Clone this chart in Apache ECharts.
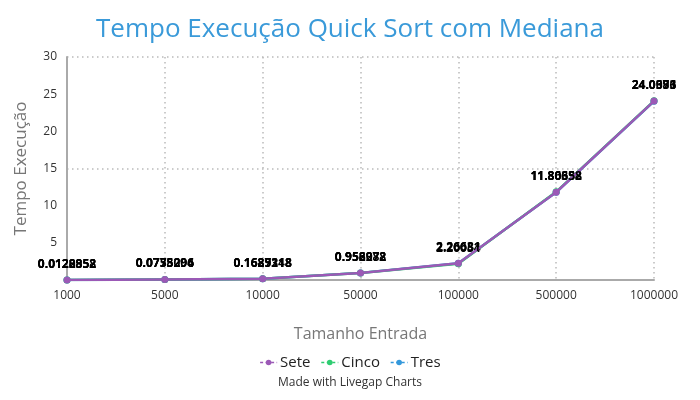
<!DOCTYPE html>
<html><head><meta charset="utf-8">
<script src="https://cdn.jsdelivr.net/npm/echarts@6/dist/echarts.min.js"></script>
<style>html,body{margin:0;padding:0;background:#fff}#c{width:700px;height:400px}</style>
</head><body><div id="c"></div>
<script>
const categories = ['1000','5000','10000','50000','100000','500000','1000000'];
const sete  = [0.0120952, 0.0758006, 0.1689348, 0.956078, 2.26681, 11.80658, 24.0681];
const cinco = [0.0128858, 0.0735296, 0.1627218, 0.952972, 2.20054, 11.86338, 24.0996];
const tres  = [0.0122852, 0.0775294, 0.1685118, 0.958282, 2.26631, 11.80692, 24.0373];
const seriesNames = ['Sete','Cinco','Tres'];
const colors = ['#9b59b6','#2ecc71','#3498db'];
const yTicks = [0, 30, 5];

const font = '"Open Sans", sans-serif';
const chart = echarts.init(document.getElementById('c'));
function mk(name, data, color, z){
  return {
    name, type:'line', data, z,
    yAxisIndex:0,
    symbol:'circle', symbolSize:7,
    lineStyle:{color, width:2.5},
    itemStyle:{color},
    label:{show:true, position:'top', distance:6, color:'#000', fontWeight:'bold', fontSize:12, fontFamily:font,
      formatter:p=>String(p.value)}
  };
}
const grid = {color:'#bbb', type:[1.5,3.5], width:1.5};
chart.setOption({
  animation:false,
  color:colors,
  title:[
    {text:'Tempo Execução Quick Sort com Mediana', left:'center', top:12,
     textStyle:{color:'#3a9ad9', fontSize:26, fontWeight:'normal', fontFamily:font}},
    {text:'Made with Livegap Charts', left:'center', top:372,
     textStyle:{color:'#333', fontSize:12, fontWeight:'normal', fontFamily:font}}
  ],
  legend:{data:seriesNames, top:350, left:'center', itemWidth:17, itemHeight:7, itemGap:10,
    lineStyle:{type:[3,2.5], width:1.5},
    textStyle:{fontSize:15, color:'#222', fontFamily:font, padding:[0,0,0,-2]}},
  grid:{left:67, right:46, top:57, bottom:120},
  xAxis:{type:'category', data:categories, boundaryGap:false,
    name:'Tamanho Entrada', nameLocation:'middle', nameGap:46,
    nameTextStyle:{color:'#777', fontSize:16, fontFamily:font},
    axisLine:{lineStyle:{color:'#aaa', width:2}},
    axisTick:{show:false},
    axisLabel:{color:'#333', fontSize:12, fontFamily:font, margin:10},
    splitLine:{show:true, lineStyle:grid}
  },
  yAxis:[
    {type:'value', min:yTicks[0], max:yTicks[1], interval:yTicks[2],
     name:'Tempo Execução', nameLocation:'middle', nameGap:37,
     nameTextStyle:{color:'#777', fontSize:17, fontFamily:font},
     axisLine:{show:true, lineStyle:{color:'#aaa', width:2}},
     axisTick:{show:false},
     axisLabel:{color:'#333', fontSize:12, fontFamily:font, margin:10, formatter:v=>v===0?'':String(v)},
     splitLine:{show:false}},
    {type:'value', min:0, max:30, interval:15, show:true,
     axisLine:{show:false}, axisTick:{show:false}, axisLabel:{show:false},
     splitLine:{show:true, lineStyle:grid}}
  ],
  series:[mk('Tres', tres, colors[2], 2), mk('Cinco', cinco, colors[1], 3), mk('Sete', sete, colors[0], 4)]
});
</script></body></html>
